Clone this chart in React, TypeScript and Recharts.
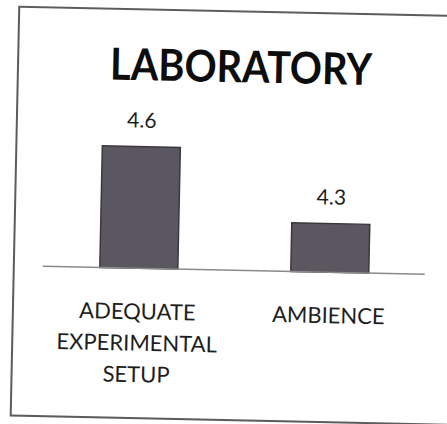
import React from 'react';
import { BarChart, Bar, XAxis, YAxis, LabelList } from 'recharts';

const categories = ['ADEQUATE EXPERIMENTAL SETUP', 'AMBIENCE'];
const tickLines = [['ADEQUATE', 'EXPERIMENTAL', 'SETUP'], ['AMBIENCE']];
const scores = [4.6, 4.3];
const chartTitle = 'LABORATORY';

const data = categories.map((name, i) => ({ name, value: scores[i] }));

const FONT = 'Lato, "Open Sans", sans-serif';

const CategoryTick = (props: any) => {
  const { x, y, index } = props;
  const lines = tickLines[index] || [];
  return (
    <text textAnchor="middle" fontFamily={FONT} fontSize={22} fill="#1e1e1e">
      {lines.map((line, i) => (
        <tspan key={i} x={x} y={y + 51 + i * 31.5}>
          {line}
        </tspan>
      ))}
    </text>
  );
};

export default function App() {
  return (
    <div style={{ position: 'fixed', left: 0, top: 0, width: 447, height: 424, overflow: 'hidden', background: '#fff' }}>
      <div style={{ position: 'absolute', left: 0, top: 0, width: 447, height: 424, transform: 'rotate(1.2deg)', transformOrigin: '224px 212px' }}>
        {/* scanned frame */}
        <div style={{ position: 'absolute', left: 14, top: 10, width: 470, height: 411, border: '2px solid #5c5c5c', boxSizing: 'border-box' }} />
        <svg width={447} height={424} style={{ position: 'absolute', left: 0, top: 0 }}>
          <text x={238} y={82} textAnchor="middle" fontFamily={FONT} fontWeight={700} fontSize={44} fill="#0d0d0d" textLength={262} lengthAdjust="spacingAndGlyphs">
            {chartTitle}
          </text>
        </svg>
        <div style={{ position: 'absolute', left: 0, top: 0 }}>
          <BarChart width={447} height={424} data={data} margin={{ top: 124, right: 21, bottom: 54, left: 44 }}>
            <XAxis
              dataKey="name"
              height={100}
              interval={0}
              tickLine={false}
              tickSize={0}
              tickMargin={0}
              axisLine={{ stroke: '#8a8a8a', strokeWidth: 1.5 }}
              tick={<CategoryTick />}
            />
            <YAxis hide domain={[4.1, 4.7]} />
            <Bar dataKey="value" barSize={78} fill="#5b5760" stroke="#3a373d" strokeWidth={1.5} isAnimationActive={false}>
              <LabelList dataKey="value" position="top" offset={19} fontFamily={FONT} fontSize={21} fill="#1e1e1e" formatter={(v: any) => Number(v).toFixed(1)} />
            </Bar>
          </BarChart>
        </div>
      </div>
    </div>
  );
}
